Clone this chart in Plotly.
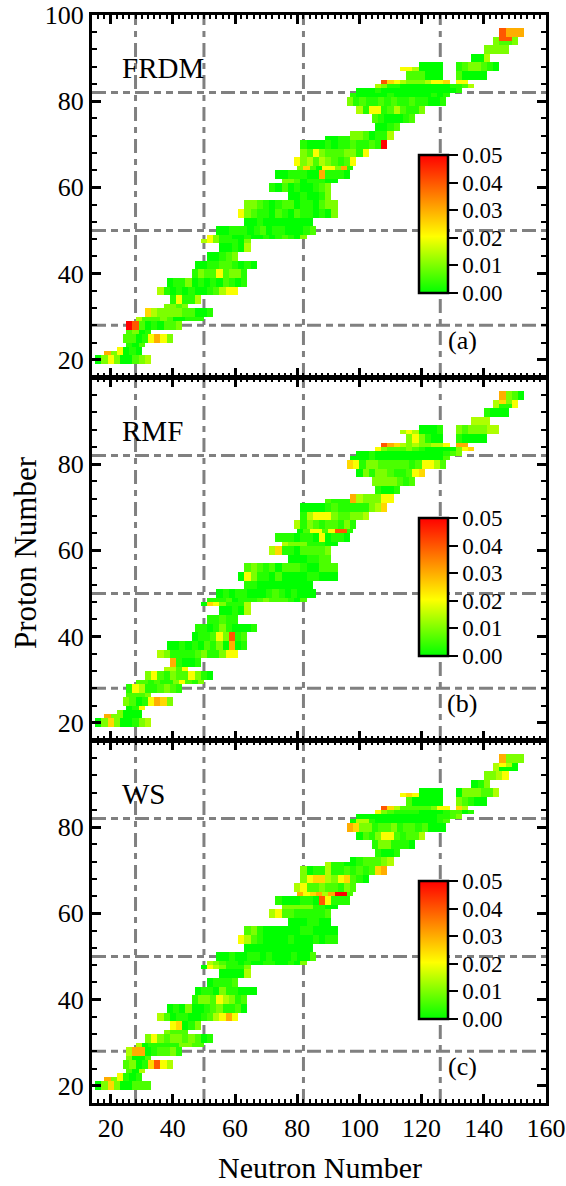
import numpy as np
import plotly.graph_objects as go

# Rows of nuclei: Z from..to and N from..to
ROW_ZLO = [19,21,21,23,24,26,27,29,30,32,33,35,37,39,41,43,45,47,48,49,51,53,55,57,59,61,62,64,65,67,69,71,71,73,75,77,79,81,82,83,84,84,85,85,87,87,87,89,91,93,95,94]
ROW_ZHI = [21,22,23,24,26,27,29,30,32,33,35,37,39,41,43,45,47,48,49,51,53,55,57,59,61,62,64,65,67,69,71,72,73,75,77,79,81,82,83,84,85,85,87,87,88,89,89,91,93,95,97,95]
ROW_NLO = [15,18,22,25,24,25,25,28,31,37,39,35,38,46,47,51,55,49,51,54,63,61,63,77,71,75,73,80,79,81,81,89,97,105,104,99,96,97,99,105,107,131,115,131,113,119,131,136,140,143,145,145]

# value of each code digit (deviation between calculation and experiment)
LEVELS = [0.0, 0.003, 0.006, 0.01, 0.014, 0.02, 0.025, 0.03, 0.04, 0.05]

FRDM = ["035300234","73","5010","102","22015753","2301","982010223","42223200111","64333322001","3323","15114",
"4101010012455","0113010102101","132252331","0011221010","00123","00104","45311103","5311001001012103","0011101201100012",
"00100000000","5321102102110103","332101220110233","0010013","1020100123","332011100","001110071110","362055371","5342432125",
"32532223315","10001011211219","0011","3320114","0012","2100012","41551242113","3121121211211001","1000001000000101",
"00010000000000001","4311000000001124","86543334556","55","222000","20000","554","0000","1233210","004","3333","3223","8777","88"]

RMF = ["036300134","73","3000","015","32015763","2223","154112321","22121135213","35213225310","4425","71001",
"4311112311355","0010102130701","011253812","1101310001","11211","00104","06531114","1112011123222102","0101100012101000",
"11000000000","0531102000011000","232120222100222","0001122","4611022223","433311100","111011050110","025525881","4132122131",
"14555322334","00001211111346","2111","7433355","1001","3333212","03133211256","6513322222125542","0001000000000002",
"00100000000000123","5322232100000356","87643433445","77","353100","10000","454","0001","3233344","444","1000","4115","7320","63"]

WS = ["036300222","73","5101","204","23016854","3002","477012231","40111113322","35323323201","3222","56013",
"4201100124575","0103001231120","133254312","0110311000","01112","00004","05431113","4321101001100103","0010011010001002",
"00000000000","5421000010001011","231000000110000","0001100","4522111112","333331100","100011085111","756747992","4522322132",
"35664356210","30114112121267","4110","0122234","1001","1331110","02135521224","7633122312212000","0441000000000012",
"00000000000001123","5321111000012201","86422222355","64","200000","32100","565","0000","0333224","013","3345","4000","7333","54"]

MAGIC_N = [28, 50, 82, 126]
MAGIC_Z = [28, 50, 82]
PANEL_NAMES = ["FRDM", "RMF", "WS"]
PANEL_TAGS = ["(a)", "(b)", "(c)"]
CB_TICKS = [0.0, 0.01, 0.02, 0.03, 0.04, 0.05]
CB_LABELS = ["0.00", "0.01", "0.02", "0.03", "0.04", "0.05"]
X_TICKS = [20, 40, 60, 80, 100, 120, 140, 160]

W, H = 566, 1186
L, R, T, B = 92, 546, 15, 1103
PANELS_PX = [(15, 377), (378, 740), (741, 1103)]
FONT = "Liberation Serif"


def px_x(p):
    return (p - L) / (R - L)


def px_y(p):
    return (B - p) / (B - T)


n_edges = np.arange(14, 160)
z_edges = np.arange(16, 100)


def grid(codes):
    g = np.full((len(z_edges), len(n_edges)), np.nan)
    for zlo, zhi, nlo, s in zip(ROW_ZLO, ROW_ZHI, ROW_NLO, codes):
        for k, ch in enumerate(s):
            g[zlo - 16:zhi - 16, nlo + 2 * k - 14:nlo + 2 * k + 2 - 14] = LEVELS[int(ch)]
    return g


COLORSCALE = [[0, "#00ff00"], [0.41, "#ffff00"], [1, "#ff0000"]]

fig = go.Figure()
shapes, annots = [], []
for i, codes in enumerate([FRDM, RMF, WS]):
    top, bot = PANELS_PX[i]
    xa = "x" if i == 0 else f"x{i+1}"
    ya = "y" if i == 0 else f"y{i+1}"
    fig.add_trace(go.Heatmap(
        x=n_edges + 0.5, y=z_edges + 0.5, z=grid(codes), xaxis=xa, yaxis=ya,
        zmin=0, zmax=0.05, colorscale=COLORSCALE, hoverongaps=False, zsmooth=False,
        colorbar=dict(
            x=px_x(419), xanchor="left", xpad=0, ypad=0,
            y=px_y(top + 278), yanchor="bottom",
            len=138, lenmode="pixels", thickness=29, thicknessmode="pixels",
            outlinecolor="black", outlinewidth=2.5, borderwidth=0,
            ticks="outside", ticklen=9, tickwidth=1.5, tickcolor="black",
            tickvals=CB_TICKS, ticktext=CB_LABELS,
            tickfont=dict(family=FONT, size=23, color="black"),
        ),
    ))
    for n in MAGIC_N:
        shapes.append(dict(type="line", layer="below", xref=xa, yref=f"{ya} domain",
                           x0=n, x1=n, y0=0, y1=1,
                           line=dict(color="#808080", width=3, dash="14px,6px,6px,6px")))
    for z in MAGIC_Z:
        shapes.append(dict(type="line", layer="below", xref=f"{xa} domain", yref=ya,
                           x0=0, x1=1, y0=z, y1=z,
                           line=dict(color="#808080", width=3, dash="14px,5px,7px,5px,7px,5px")))
    annots.append(dict(xref="paper", yref="paper", x=px_x(120), y=px_y(top + 53), text=PANEL_NAMES[i],
                       showarrow=False, xanchor="left", yanchor="middle",
                       font=dict(family=FONT, size=29, color="black")))
    annots.append(dict(xref="paper", yref="paper", x=px_x(462), y=px_y(top + 325), text=PANEL_TAGS[i],
                       showarrow=False, xanchor="center", yanchor="middle",
                       font=dict(family=FONT, size=26, color="black")))
    axis_common = dict(showline=True, linecolor="black", linewidth=3, mirror="ticks", showgrid=False,
                       zeroline=False, ticks="inside", tickcolor="black", tickwidth=2.5, ticklen=9,
                       tickfont=dict(family=FONT, size=26, color="black"))
    fig.update_layout({
        ("xaxis" if i == 0 else f"xaxis{i+1}"): dict(
            axis_common, range=[14, 160], anchor=ya, domain=[0, 1], tickvals=X_TICKS,
            showticklabels=(i == 2),
            minor=dict(dtick=2, tick0=0, ticks="inside", ticklen=4, tickwidth=2, tickcolor="black")),
        ("yaxis" if i == 0 else f"yaxis{i+1}"): dict(
            axis_common, range=[16, 100], anchor=xa, domain=[px_y(bot), px_y(top)],
            tickvals=[20, 40, 60, 80, 100] if i == 0 else [20, 40, 60, 80],
            minor=dict(dtick=4, tick0=0, ticks="inside", ticklen=5, tickwidth=2, tickcolor="black")),
    })

annots.append(dict(xref="paper", yref="paper", x=px_x(320), y=px_y(1167), text="Neutron Number",
                   showarrow=False, xanchor="center", yanchor="middle",
                   font=dict(family=FONT, size=30, color="black")))
annots.append(dict(xref="paper", yref="paper", x=px_x(25), y=px_y(553), text="Proton Number", textangle=-90,
                   showarrow=False, xanchor="center", yanchor="middle",
                   font=dict(family=FONT, size=31, color="black")))

fig.update_layout(
    width=W, height=H, autosize=False,
    margin=dict(l=L, r=W - R, t=T, b=H - B, pad=0, autoexpand=False),
    paper_bgcolor="white", plot_bgcolor="white",
    showlegend=False, shapes=shapes, annotations=annots,
)
fig.write_html("out.html", config=dict(displayModeBar=False),
               post_script="document.body.style.margin='0';document.body.style.overflow='hidden';")
